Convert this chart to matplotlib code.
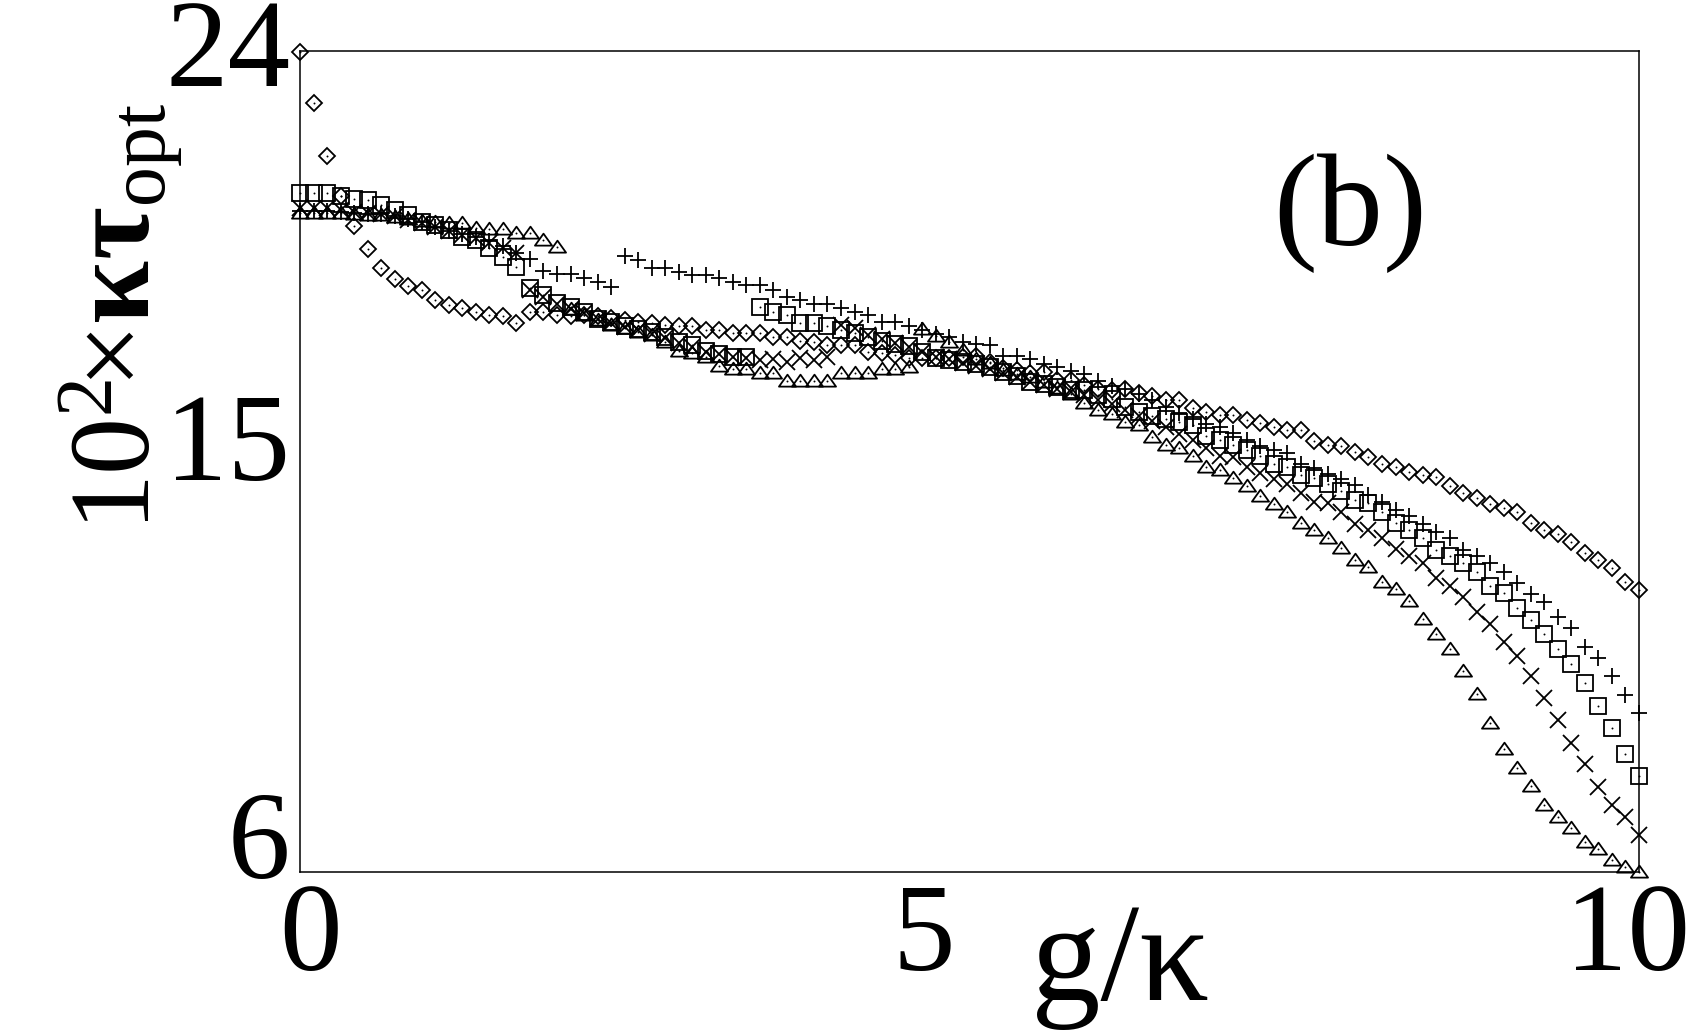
import numpy as np
import matplotlib
matplotlib.use("Agg")
import matplotlib.pyplot as plt
from matplotlib.path import Path
from matplotlib.transforms import ScaledTranslation

plt.rcParams['font.family'] = ['Liberation Serif', 'DejaVu Serif']
plt.rcParams['mathtext.fontset'] = 'custom'
plt.rcParams['mathtext.rm'] = 'Liberation Serif'
plt.rcParams['mathtext.it'] = 'Liberation Serif:italic'
plt.rcParams['mathtext.bf'] = 'Liberation Serif:bold'

# coupling grid g/kappa: 100 samples on [0, 10]
g_over_kappa = np.linspace(0.0, 10.0, 100)

# 10^2 x kappa*tau_opt for the five cases
tau_diamond = [
    23.97, 22.85, 21.70, 20.82, 20.16, 19.66, 19.25, 19.00, 18.85, 18.76,
    18.54, 18.43, 18.37, 18.28, 18.21, 18.20, 18.03, 18.28, 18.28, 18.21,
    18.18, 18.22, 18.18, 18.14, 18.10, 18.06, 18.03, 17.99, 17.97, 17.96,
    17.88, 17.88, 17.81, 17.81, 17.81, 17.73, 17.73, 17.65, 17.63, 17.55,
    17.55, 17.55, 17.40, 17.37, 17.34, 17.28,
    17.27, 17.26, 17.27, 17.30, 17.32, 17.19, 17.04, 17.00, 16.93, 16.97,
    16.79, 16.79, 16.68, 16.60, 16.57,
    16.58, 16.51, 16.44, 16.35, 16.35, 16.18, 16.08, 16.02, 16.02, 15.92,
    15.84, 15.75, 15.68, 15.68, 15.46, 15.36, 15.35, 15.20, 15.10, 14.94,
    14.87, 14.78, 14.70, 14.65, 14.46, 14.30, 14.21, 14.07, 13.97, 13.89,
    13.66, 13.50, 13.40, 13.24, 13.00, 12.84, 12.66, 12.35, 12.18,
]
tau_square = [
    20.89, 20.89, 20.89, 20.82, 20.75, 20.73, 20.62, 20.51, 20.40, 20.26,
    20.18, 20.08, 19.93, 19.86, 19.67, 19.49, 19.27,
    18.80, 18.65, 18.47, 18.38, 18.27, 18.12, 18.05, 17.97, 17.90, 17.83,
    17.72, 17.61, 17.55, 17.42, 17.35, 17.30, 17.30,
    18.38, 18.28, 18.21, 18.04, 18.04, 17.96, 17.89, 17.81, 17.72, 17.64,
    17.58, 17.53, 17.41, 17.28, 17.22, 17.19, 17.14, 17.08, 16.97, 16.87,
    16.75, 16.71, 16.64, 16.57, 16.57, 16.46, 16.37,
    16.19, 16.09, 16.00, 15.93, 15.87, 15.79, 15.55, 15.47, 15.36, 15.25,
    15.13, 14.95, 14.89, 14.70, 14.63, 14.50, 14.36, 14.16, 14.08, 13.90,
    13.66, 13.50, 13.32, 13.07, 12.93, 12.77, 12.58, 12.26, 12.11,
    11.78, 11.52, 11.21, 10.88, 10.55, 10.15, 9.65, 9.16, 8.59, 8.10,
]
tau_plus = [
    20.50, 20.50, 20.50, 20.48, 20.45, 20.43, 20.42, 20.38, 20.32, 20.25,
    20.15, 20.05, 19.98, 19.92, 19.84, 19.72, 19.58,
    19.43, 19.18, 19.10, 19.10, 19.02, 18.94, 18.83,
    19.50, 19.42, 19.24, 19.24, 19.16, 19.09,
    19.09, 19.02, 18.94, 18.87, 18.87, 18.75, 18.61, 18.54, 18.46, 18.46,
    18.37, 18.28, 18.21, 18.05, 18.05, 17.96, 17.88, 17.79, 17.72, 17.63,
    17.58,
    17.55, 17.32, 17.31, 17.25, 17.14, 17.08, 16.99, 16.92, 16.76,
    16.66, 16.58, 16.47, 16.35, 16.20, 16.07, 15.94, 15.83, 15.75, 15.63,
    15.47, 15.34, 15.26, 15.18, 14.94, 14.86, 14.73, 14.62,
    14.48, 14.27, 14.12, 13.94, 13.80, 13.64, 13.46, 13.32, 13.07, 12.93,
    12.77, 12.58, 12.34, 12.09, 11.91,
    11.60, 11.34, 10.94, 10.70, 10.30, 9.88, 9.48,
]
tau_cross = [
    20.55, 20.55, 20.55, 20.52, 20.48, 20.45, 20.43, 20.38, 20.30, 20.22,
    20.14, 20.05, 19.97, 19.90, 19.80, 19.68, 19.58,
    18.75, 18.60, 18.45, 18.35, 18.25, 18.12, 18.03, 17.95, 17.88, 17.80,
    17.70, 17.60, 17.50,
    17.40, 17.35, 17.30, 17.28, 17.22, 17.25, 17.18, 17.28, 17.22, 17.30,
    18.00, 17.92, 17.78, 17.68, 17.60, 17.52, 17.40, 17.30, 17.24, 17.17,
    17.10, 17.03, 16.94, 16.85, 16.75, 16.68, 16.60, 16.52, 16.45, 16.35,
    16.25, 16.12, 16.00, 15.88, 15.75, 15.60, 15.48, 15.30,
    15.12, 15.10, 14.87, 14.74, 14.61, 14.50, 14.30, 14.12, 14.08, 13.89,
    13.64, 13.50, 13.32, 13.08, 12.93, 12.77, 12.44, 12.26, 12.04, 11.69,
    11.44, 11.04, 10.73, 10.30, 9.81, 9.33, 8.83, 8.36, 7.87, 7.47,
    7.21, 6.81,
]
tau_triangle = [
    20.45, 20.45, 20.45, 20.45, 20.42, 20.40, 20.40, 20.36, 20.32, 20.28,
    20.26, 20.22, 20.22, 20.11, 20.10, 20.10, 20.01, 20.00, 19.86, 19.71,
    18.35, 18.22, 18.10, 18.00, 17.93, 17.85, 17.78, 17.62, 17.43, 17.38,
    17.30,
    17.09, 17.02, 17.02, 16.93, 16.93, 16.76, 16.76, 16.76, 16.76, 16.93,
    16.93, 16.93, 17.02, 17.02, 17.08,
    17.90, 17.75, 17.63, 17.44, 17.25, 17.15, 17.00, 16.92, 16.85, 16.75,
    16.62, 16.48, 16.28, 16.13,
    16.04, 15.87, 15.79, 15.53, 15.37, 15.29, 15.13, 14.89, 14.82, 14.64,
    14.46, 14.24, 14.07, 13.90, 13.66, 13.50, 13.32, 13.10, 12.84, 12.68,
    12.36, 12.20,
    11.94, 11.55, 11.21, 10.88, 10.41, 9.90, 9.26, 8.70, 8.29, 7.89,
    7.47, 7.21, 6.97, 6.66, 6.50, 6.26, 6.10, 6.01,
]

x_ticks = [0, 5, 10]
x_tick_labels = ['0', '5', '10']
y_ticks = [6, 15, 24]
y_tick_labels = ['6', '15', '24']

# flattened open triangle with its centre a little below mid-height
tri_marker = Path([(-1.0, -0.6), (1.0, -0.6), (0.0, 0.8), (-1.0, -0.6)],
                  [Path.MOVETO, Path.LINETO, Path.LINETO, Path.CLOSEPOLY])

fig = plt.figure(figsize=(16.96, 10.34), dpi=100)
ax = fig.add_axes([300 / 1696, 1 - 872 / 1034, 1339 / 1696, 821 / 1034])

edge_w = 1.3
series = [
    (tau_diamond, 'D', 8.0, True),
    (tau_square, 's', 11.5, True),
    (tau_plus, '+', 11.8, False),
    (tau_cross, 'x', 11.8, False),
    (tau_triangle, tri_marker, 12.3, True),
]
for values, marker, size, dotted in series:
    ax.plot(g_over_kappa, values, linestyle='none', marker=marker,
            markersize=size, markerfacecolor='none', markeredgecolor='black',
            markeredgewidth=edge_w, clip_on=False, zorder=3)
    if dotted:
        ax.plot(g_over_kappa, values, linestyle='none', marker='o',
                markersize=1.4, markerfacecolor='black', markeredgewidth=0,
                clip_on=False, zorder=4)

ax.set_xlim(0, 10)
ax.set_ylim(6, 24)
ax.set_xticks(x_ticks)
ax.set_xticklabels(x_tick_labels)
ax.set_yticks(y_ticks)
ax.set_yticklabels(y_tick_labels)
ax.tick_params(axis='both', length=0, labelsize=90)
ax.tick_params(axis='x', pad=8)
ax.tick_params(axis='y', pad=7)
for sp in ax.spines.values():
    sp.set_linewidth(1.1)
    sp.set_color('black')

# individual nudges of the tick labels (points)
x_shift = [7.2, -33.0, -8.0]
for lab, dx in zip(ax.get_xticklabels(), x_shift):
    lab.set_transform(lab.get_transform() +
                      ScaledTranslation(dx / 72, 0, fig.dpi_scale_trans))
y_shift = [27.0, 18.0, 5.8]
for lab, dy in zip(ax.get_yticklabels(), y_shift):
    lab.set_transform(lab.get_transform() +
                      ScaledTranslation(0, dy / 72, fig.dpi_scale_trans))

# rotated axis title, anchored at the start of its baseline
fig.text(151 / 1696, 1 - 531 / 1034,
         r'$10^{2}\!{\times}\mathbf{\kappa\tau}_{\mathrm{opt}}$',
         rotation=90, rotation_mode='anchor', ha='left', va='baseline',
         fontsize=82)
fig.text(1120 / 1696, 1 - 1000 / 1034, 'g/κ', ha='center', va='baseline',
         fontsize=100)
fig.text(1350 / 1696, 1 - 213 / 1034, '(b)', ha='center', va='center',
         fontsize=95)

fig.savefig('out.png', dpi=100, facecolor='white')
